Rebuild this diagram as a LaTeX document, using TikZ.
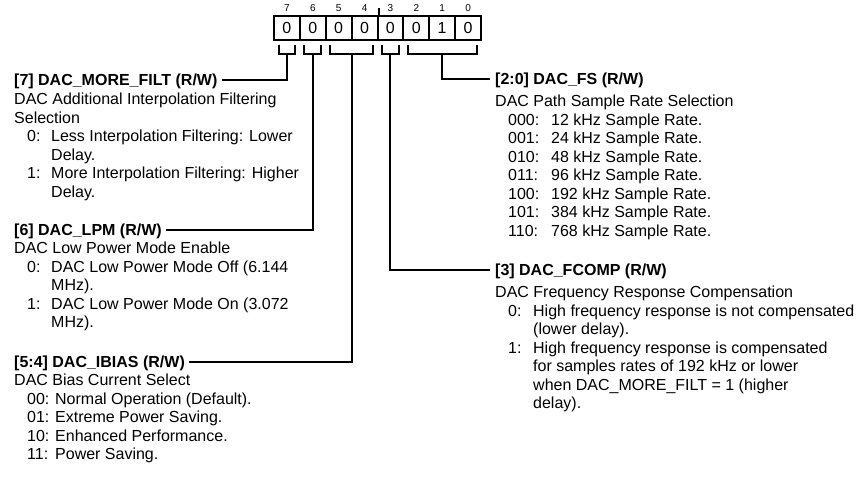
\documentclass[tikz,border=0pt]{standalone}
\usepackage{fontspec}
\setmainfont{Liberation Sans}
\usetikzlibrary{calc}
\newcommand\itemln[3]{\hspace*{13pt}\makebox[#1][l]{#2}#3}
\newcommand\contln[2]{\hspace*{#1}#2}
\begin{document}
\begin{tikzpicture}[x=1pt,y=-1pt,
  cell/.style={draw, line width=2pt, minimum width=25.875pt, minimum height=24pt, inner sep=0pt, font=\fontsize{16}{18}\selectfont},
  bitnum/.style={font=\fontsize{10}{12}\selectfont, inner sep=0pt},
  hdr/.style={font=\fontsize{16}{18.5}\selectfont\bfseries, inner sep=0pt, text height=11.5pt, text depth=0pt, anchor=west},
  body/.style={font=\fontsize{16}{18.5}\selectfont, inner sep=0pt, anchor=base west},
  conn/.style={line width=2pt},
]
\useasboundingbox (0,0) rectangle (868,477);

% register cells
\foreach \b/\v in {7/0,6/0,5/0,4/0,3/0,2/0,1/1,0/0}{
  \node[cell] (c\b) at ({286.94+25.875*(7-\b)},27.5) {\v};
  \node[bitnum] (n\b) at ($(c\b.center)+(0,-19)$) {\b};
}
\coordinate (tk) at ($(c4.north east)+(0,-7)$);
\draw[conn] (c4.north east) -- (tk);

% brackets
\draw[conn] ($(c7.south west)+(5.5,4)$) -- ++(0,9) -| ($(c7.south east)+(-5.5,4)$);
\draw[conn] ($(c6.south west)+(5.5,4)$) -- ++(0,9) -| ($(c6.south east)+(-5.5,4)$);
\draw[conn] ($(c5.south west)+(5.5,4)$) -- ++(0,9) -| ($(c4.south east)+(-5.5,4)$);
\draw[conn] ($(c3.south west)+(5.5,4)$) -- ++(0,9) -| ($(c3.south east)+(-5.5,4)$);
\draw[conn] ($(c2.south west)+(5.5,4)$) -- ++(0,9) -| ($(c0.south east)+(-5.5,4)$);
\coordinate (b7) at ($(c7.south)+(0,13)$);
\coordinate (b6) at ($(c6.south)+(0,13)$);
\coordinate (b54) at ($($(c5.south west)!0.5!(c4.south east)$)+(0,13)$);
\coordinate (b3) at ($(c3.south)+(0,13)$);
\coordinate (b20) at ($(c1.south)+(0,13)$);

% headers
\node[hdr] (h7) at (14,80) {[7] DAC\_MORE\_FILT (R/W)};
\node[hdr] (h6) at (14,229.5) {[6] DAC\_LPM (R/W)};
\node[hdr] (h54) at (14,361.5) {[5:4] DAC\_IBIAS (R/W)};
\node[hdr] (h20) at (495,79) {[2:0] DAC\_FS (R/W)};
\node[hdr] (h3) at (495,270) {[3] DAC\_FCOMP (R/W)};

% connectors
\draw[conn] (b7) |- ([xshift=4pt]h7.east);
\draw[conn] (b6) |- ([xshift=4pt]h6.east);
\draw[conn] (b54) |- ([xshift=4pt]h54.east);
\draw[conn] (b20) |- ([xshift=-5pt]h20.west);
\draw[conn] (b3) |- ([xshift=-5pt]h3.west);

% bodies
\node[body] (t7) at (14,104.5) {\begin{tabular}[t]{@{}l@{}}
DAC Additional Interpolation Filtering\\
Selection\\
\itemln{24pt}{0:}{Less Interpolation Filtering: Lower}\\
\contln{37pt}{Delay.}\\
\itemln{24pt}{1:}{More Interpolation Filtering: Higher}\\
\contln{37pt}{Delay.}
\end{tabular}};

\node[body] (t6) at (14,253.5) {\begin{tabular}[t]{@{}l@{}}
DAC Low Power Mode Enable\\
\itemln{24pt}{0:}{DAC Low Power Mode Off (6.144}\\
\contln{37pt}{MHz).}\\
\itemln{24pt}{1:}{DAC Low Power Mode On (3.072}\\
\contln{37pt}{MHz).}
\end{tabular}};

\node[body] (t54) at (14,385.5) {\begin{tabular}[t]{@{}l@{}}
DAC Bias Current Select\\
\itemln{28pt}{00:}{Normal Operation (Default).}\\
\itemln{28pt}{01:}{Extreme Power Saving.}\\
\itemln{28pt}{10:}{Enhanced Performance.}\\
\itemln{28pt}{11:}{Power Saving.}
\end{tabular}};

\node[body] (t20) at (495,106.5) {\begin{tabular}[t]{@{}l@{}}
DAC Path Sample Rate Selection\\
\itemln{43pt}{000:}{12 kHz Sample Rate.}\\
\itemln{43pt}{001:}{24 kHz Sample Rate.}\\
\itemln{43pt}{010:}{48 kHz Sample Rate.}\\
\itemln{43pt}{011:}{96 kHz Sample Rate.}\\
\itemln{43pt}{100:}{192 kHz Sample Rate.}\\
\itemln{43pt}{101:}{384 kHz Sample Rate.}\\
\itemln{43pt}{110:}{768 kHz Sample Rate.}
\end{tabular}};

\node[body] (t3) at (495,297.5) {\begin{tabular}[t]{@{}l@{}}
DAC Frequency Response Compensation\\
\itemln{25pt}{0:}{High frequency response is not compensated}\\
\contln{38pt}{(lower delay).}\\
\itemln{25pt}{1:}{High frequency response is compensated}\\
\contln{38pt}{for samples rates of 192 kHz or lower}\\
\contln{38pt}{when DAC\_MORE\_FILT = 1 (higher}\\
\contln{38pt}{delay).}
\end{tabular}};
\end{tikzpicture}
\end{document}
